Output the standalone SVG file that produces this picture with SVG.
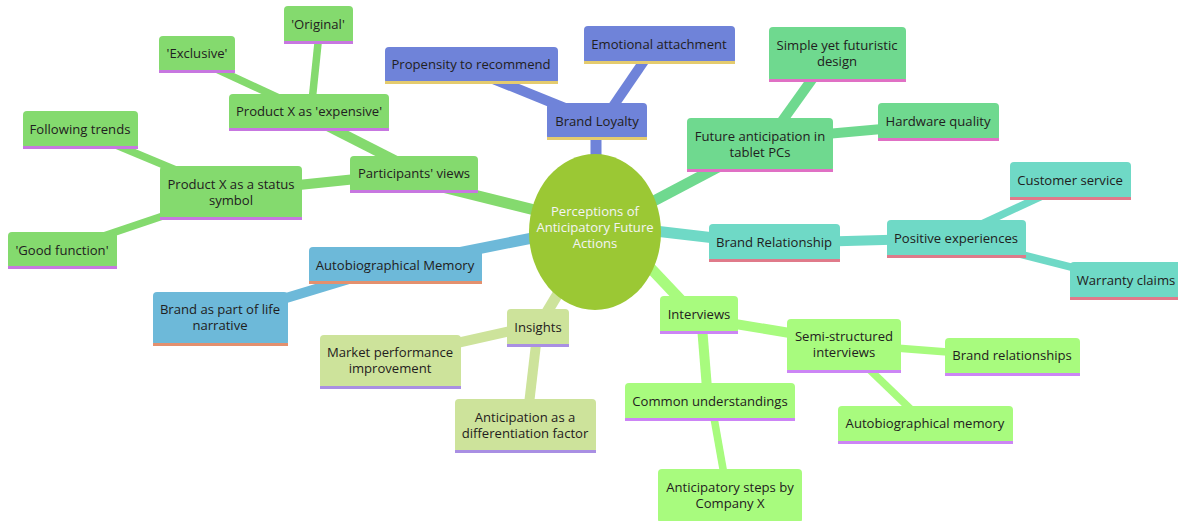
<svg xmlns="http://www.w3.org/2000/svg" width="1178" height="521" viewBox="0 0 1178 521">
<style>
text{font-family:"Open Sans","Noto Sans","Liberation Sans",sans-serif;font-size:13.1px;fill:#1f2020;text-anchor:middle;dominant-baseline:central}
.root text{fill:#f4f4f4}
line{stroke-linecap:butt}
.d1{stroke-width:11}.d2{stroke-width:10}.d3{stroke-width:7.5}
.s0{fill:#6f83d9}.e0{stroke:#6f83d9}.b0{stroke:#e4cb6e}
.s1{fill:#84da6e}.e1{stroke:#84da6e}.b1{stroke:#c777e0}
.s2{fill:#6db9d9}.e2{stroke:#6db9d9}.b2{stroke:#e3906e}
.s3{fill:#cde39b}.e3{stroke:#cde39b}.b3{stroke:#a98fe3}
.s4{fill:#a8fb7e}.e4{stroke:#a8fb7e}.b4{stroke:#cc85f5}
.s5{fill:#6fd9c6}.e5{stroke:#6fd9c6}.b5{stroke:#e07a8a}
.s6{fill:#6fd98f}.e6{stroke:#6fd98f}.b6{stroke:#e070c4}
.bl{stroke-width:3}
</style>
<g id="connectors">
<line class="d1 e0" x1="596" y1="121" x2="596" y2="232"/>
<line class="d1 e1" x1="414" y1="180" x2="595" y2="225"/>
<line class="d1 e2" x1="395" y1="265.5" x2="595" y2="225.5"/>
<line class="d1 e3" x1="538" y1="327" x2="595" y2="232"/>
<line class="d1 e4" x1="694" y1="314" x2="624" y2="240"/>
<line class="d1 e5" x1="595" y1="224" x2="774" y2="245"/>
<line class="d1 e6" x1="595" y1="232" x2="760" y2="145"/>
<line class="d2 e0" x1="471" y1="70" x2="597" y2="121"/>
<line class="d2 e0" x1="655" y1="45" x2="603" y2="121"/>
<line class="d2 e1" x1="300" y1="112" x2="414" y2="170"/>
<line class="d2 e1" x1="231" y1="192" x2="414" y2="173"/>
<line class="d2 e2" x1="220" y1="318" x2="395" y2="265"/>
<line class="d2 e3" x1="390" y1="358" x2="538" y2="325"/>
<line class="d2 e3" x1="538" y1="327" x2="526" y2="430"/>
<line class="d2 e4" x1="699" y1="318" x2="844" y2="342"/>
<line class="d2 e4" x1="701" y1="314" x2="708" y2="401"/>
<line class="d2 e5" x1="774" y1="243" x2="956" y2="238"/>
<line class="d2 e6" x1="765" y1="145" x2="833" y2="50"/>
<line class="d2 e6" x1="760" y1="140" x2="938" y2="124"/>
<line class="d3 e1" x1="197" y1="60" x2="309" y2="112"/>
<line class="d3 e1" x1="320" y1="24" x2="311" y2="111"/>
<line class="d3 e1" x1="80" y1="130" x2="231" y2="193"/>
<line class="d3 e1" x1="62" y1="250" x2="231" y2="193"/>
<line class="d3 e4" x1="844" y1="344" x2="1012" y2="357"/>
<line class="d3 e4" x1="844" y1="345" x2="925" y2="423"/>
<line class="d3 e4" x1="711" y1="401" x2="728" y2="497"/>
<line class="d3 e5" x1="956" y1="236" x2="1070" y2="183"/>
<line class="d3 e5" x1="956" y1="238" x2="1126" y2="281"/>
</g>
<g id="root" class="root">
<ellipse cx="595" cy="232" rx="66" ry="78" fill="#9bc834"/>
<text x="595" y="211">Perceptions of</text>
<text x="595" y="227">Anticipatory Future</text>
<text x="595" y="243">Actions</text>
</g>
<g id="brand-loyalty"><rect class="s0" x="547" y="103" width="100" height="37" rx="4"/><line class="b0 bl" x1="547" y1="138.5" x2="647" y2="138.5"/><text x="597" y="121">Brand Loyalty</text></g>
<g id="propensity"><rect class="s0" x="385" y="47" width="173" height="37" rx="4"/><line class="b0 bl" x1="385" y1="82.5" x2="558" y2="82.5"/><text x="471" y="64">Propensity to recommend</text></g>
<g id="emotional"><rect class="s0" x="584" y="26" width="151" height="38" rx="4"/><line class="b0 bl" x1="584" y1="62.5" x2="735" y2="62.5"/><text x="659" y="44">Emotional attachment</text></g>
<g id="participants"><rect class="s1" x="350" y="156" width="128" height="37" rx="4"/><line class="b1 bl" x1="350" y1="191.5" x2="478" y2="191.5"/><text x="414" y="173">Participants' views</text></g>
<g id="expensive"><rect class="s1" x="229" y="94" width="160" height="37" rx="4"/><line class="b1 bl" x1="229" y1="129.5" x2="389" y2="129.5"/><text x="309" y="111">Product X as 'expensive'</text></g>
<g id="exclusive"><rect class="s1" x="159" y="36" width="76" height="37" rx="4"/><line class="b1 bl" x1="159" y1="71.5" x2="235" y2="71.5"/><text x="197" y="53">'Exclusive'</text></g>
<g id="original"><rect class="s1" x="284" y="6" width="69" height="38" rx="4"/><line class="b1 bl" x1="284" y1="42.5" x2="353" y2="42.5"/><text x="318" y="24">'Original'</text></g>
<g id="status"><rect class="s1" x="160" y="166" width="142" height="54" rx="4"/><line class="b1 bl" x1="160" y1="218.5" x2="302" y2="218.5"/><text x="231" y="184">Product X as a status</text><text x="231" y="200">symbol</text></g>
<g id="trends"><rect class="s1" x="23" y="111" width="115" height="38" rx="4"/><line class="b1 bl" x1="23" y1="147.5" x2="138" y2="147.5"/><text x="80" y="129">Following trends</text></g>
<g id="good-function"><rect class="s1" x="8" y="232" width="109" height="37" rx="4"/><line class="b1 bl" x1="8" y1="267.5" x2="117" y2="267.5"/><text x="62" y="250">'Good function'</text></g>
<g id="autobio"><rect class="s2" x="309" y="247" width="173" height="37" rx="4"/><line class="b2 bl" x1="309" y1="282.5" x2="482" y2="282.5"/><text x="395" y="265">Autobiographical Memory</text></g>
<g id="life-narrative"><rect class="s2" x="153" y="292" width="135" height="54" rx="4"/><line class="b2 bl" x1="153" y1="344.5" x2="288" y2="344.5"/><text x="220" y="309">Brand as part of life</text><text x="220" y="325">narrative</text></g>
<g id="insights"><rect class="s3" x="507" y="309" width="62" height="38" rx="4"/><line class="b3 bl" x1="507" y1="345.5" x2="569" y2="345.5"/><text x="538" y="327">Insights</text></g>
<g id="market"><rect class="s3" x="320" y="335" width="141" height="54" rx="4"/><line class="b3 bl" x1="320" y1="387.5" x2="461" y2="387.5"/><text x="390" y="352">Market performance</text><text x="390" y="368">improvement</text></g>
<g id="differentiation"><rect class="s3" x="455" y="399" width="141" height="54" rx="4"/><line class="b3 bl" x1="455" y1="451.5" x2="596" y2="451.5"/><text x="525" y="417">Anticipation as a</text><text x="525" y="433">differentiation factor</text></g>
<g id="interviews"><rect class="s4" x="660" y="296" width="78" height="38" rx="4"/><line class="b4 bl" x1="660" y1="332.5" x2="738" y2="332.5"/><text x="699" y="314">Interviews</text></g>
<g id="semi"><rect class="s4" x="787" y="319" width="114" height="54" rx="4"/><line class="b4 bl" x1="787" y1="371.5" x2="901" y2="371.5"/><text x="844" y="336">Semi-structured</text><text x="844" y="352">interviews</text></g>
<g id="brand-relationships"><rect class="s4" x="945" y="338" width="135" height="38" rx="4"/><line class="b4 bl" x1="945" y1="374.5" x2="1080" y2="374.5"/><text x="1012" y="355">Brand relationships</text></g>
<g id="autobio-memory"><rect class="s4" x="838" y="406" width="175" height="38" rx="4"/><line class="b4 bl" x1="838" y1="442.5" x2="1013" y2="442.5"/><text x="925" y="423">Autobiographical memory</text></g>
<g id="common"><rect class="s4" x="625" y="383" width="170" height="38" rx="4"/><line class="b4 bl" x1="625" y1="419.5" x2="795" y2="419.5"/><text x="710" y="401">Common understandings</text></g>
<g id="steps"><rect class="s4" x="658" y="469" width="144" height="54" rx="4"/><text x="730" y="487">Anticipatory steps by</text><text x="730" y="503">Company X</text></g>
<g id="brand-relationship"><rect class="s5" x="709" y="224" width="131" height="38" rx="4"/><line class="b5 bl" x1="709" y1="260.5" x2="840" y2="260.5"/><text x="774" y="242">Brand Relationship</text></g>
<g id="positive"><rect class="s5" x="887" y="220" width="139" height="38" rx="4"/><line class="b5 bl" x1="887" y1="256.5" x2="1026" y2="256.5"/><text x="956" y="238">Positive experiences</text></g>
<g id="customer"><rect class="s5" x="1010" y="162" width="121" height="38" rx="4"/><line class="b5 bl" x1="1010" y1="198.5" x2="1131" y2="198.5"/><text x="1070" y="180">Customer service</text></g>
<g id="warranty"><rect class="s5" x="1070" y="262" width="112" height="38" rx="4"/><line class="b5 bl" x1="1070" y1="298.5" x2="1182" y2="298.5"/><text x="1126" y="280">Warranty claims</text></g>
<g id="future"><rect class="s6" x="687" y="118" width="146" height="54" rx="4"/><line class="b6 bl" x1="687" y1="170.5" x2="833" y2="170.5"/><text x="760" y="136">Future anticipation in</text><text x="760" y="152">tablet PCs</text></g>
<g id="simple"><rect class="s6" x="769" y="27" width="137" height="55" rx="4"/><line class="b6 bl" x1="769" y1="80.5" x2="906" y2="80.5"/><text x="837" y="45">Simple yet futuristic</text><text x="837" y="61">design</text></g>
<g id="hardware"><rect class="s6" x="878" y="103" width="121" height="38" rx="4"/><line class="b6 bl" x1="878" y1="139.5" x2="999" y2="139.5"/><text x="938" y="121">Hardware quality</text></g>
</svg>
